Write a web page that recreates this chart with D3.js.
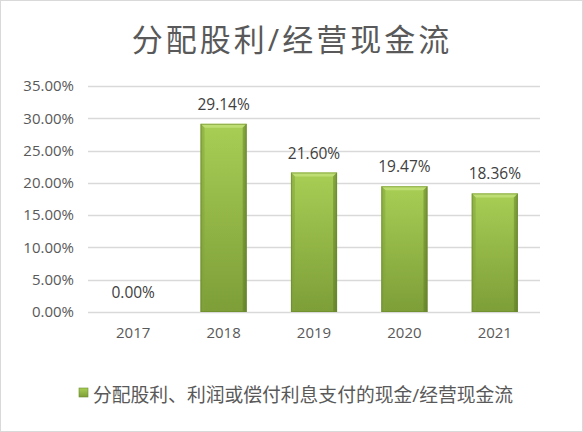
<!DOCTYPE html>
<html>
<head>
<meta charset="utf-8">
<script src="https://cdn.jsdelivr.net/npm/d3@7"></script>
<style>
  body { margin: 0; background: #fff; }
  svg text { font-family: "Open Sans", "Noto Sans CJK SC", sans-serif; }
</style>
</head>
<body>
<script>
// data
var years = ["2017", "2018", "2019", "2020", "2021"];
var ratios = [0.0000, 0.2914, 0.2160, 0.1947, 0.1836];
var yTicks = [0, 0.05, 0.10, 0.15, 0.20, 0.25, 0.30, 0.35];
var titleText = "分配股利/经营现金流";
var seriesName = "分配股利、利润或偿付利息支付的现金/经营现金流";

var width = 583, height = 432;
var margin = { top: 86, right: 43, bottom: 120, left: 88 };

var svg = d3.select("body").append("svg")
    .attr("width", width)
    .attr("height", height);

// gradients for the bevelled bars
var defs = svg.append("defs");
var g1 = defs.append("linearGradient").attr("id", "barFill")
    .attr("x1", 0).attr("y1", 0).attr("x2", 0).attr("y2", 1);
g1.append("stop").attr("offset", "0%").attr("stop-color", "#a8ce55");
g1.append("stop").attr("offset", "100%").attr("stop-color", "#7d9e38");

var g2 = defs.append("linearGradient").attr("id", "edgeFill")
    .attr("x1", 0).attr("y1", 0).attr("x2", 1).attr("y2", 0);
g2.append("stop").attr("offset", "0%").attr("stop-color", "#000").attr("stop-opacity", 0.12);
g2.append("stop").attr("offset", "8%").attr("stop-color", "#000").attr("stop-opacity", 0);
g2.append("stop").attr("offset", "92%").attr("stop-color", "#000").attr("stop-opacity", 0);
g2.append("stop").attr("offset", "100%").attr("stop-color", "#000").attr("stop-opacity", 0.18);

// outer frame
svg.append("rect")
    .attr("x", 0.5).attr("y", 0.5)
    .attr("width", width - 1).attr("height", height - 1)
    .attr("fill", "#fff")
    .attr("stroke", "#d9d9d9");

// title
svg.append("text")
    .attr("x", 292)
    .attr("y", 51)
    .attr("text-anchor", "middle")
    .attr("font-size", "31px")
    .attr("letter-spacing", "3px")
    .attr("fill", "#595959")
    .text(titleText);

var plotW = width - margin.left - margin.right,
    plotH = height - margin.top - margin.bottom;

var chart = svg.append("g")
    .attr("transform", "translate(" + margin.left + "," + margin.top + ")");

var x = d3.scaleBand()
    .domain(years)
    .range([0, plotW])
    .paddingInner(0.49)
    .paddingOuter(0.245);

var y = d3.scaleLinear()
    .domain([0, 0.35])
    .range([plotH, 0]);

// grid lines
chart.append("g")
    .selectAll("line")
    .data(yTicks)
    .join("line")
    .attr("x1", 0)
    .attr("x2", plotW)
    .attr("y1", function(d) { return Math.round(y(d)) + 0.5; })
    .attr("y2", function(d) { return Math.round(y(d)) + 0.5; })
    .attr("stroke", "#d9d9d9")
    .attr("stroke-width", 1.3);

// y axis labels
var yAxis = chart.append("g")
    .attr("transform", "translate(-11,0)")
    .call(d3.axisLeft(y).tickValues(yTicks).tickSize(0).tickFormat(d3.format(".2%")));
yAxis.select(".domain").remove();
yAxis.selectAll("text")
    .attr("font-size", "15px")
    .attr("fill", "#595959")
    .attr("font-family", "Open Sans, sans-serif");

// x axis labels
var xAxis = chart.append("g")
    .attr("transform", "translate(0," + plotH + ")")
    .call(d3.axisBottom(x).tickSize(0).tickPadding(15));
xAxis.select(".domain").remove();
xAxis.selectAll("text")
    .attr("font-size", "15px")
    .attr("fill", "#595959")
    .attr("font-family", "Open Sans, sans-serif");

// bars
var bars = chart.append("g")
    .selectAll("g")
    .data(years.map(function(d, i) { return { year: d, value: ratios[i] }; }))
    .join("g");

bars.filter(function(d) { return d.value > 0; }).each(function(d) {
    var g = d3.select(this);
    var bx = x(d.year), bw = x.bandwidth(), by = y(d.value), bh = plotH - y(d.value);
    var bev = 4;
    g.append("rect")
        .attr("x", bx).attr("y", by)
        .attr("width", bw).attr("height", bh)
        .attr("fill", "url(#barFill)");
    g.append("rect")
        .attr("x", bx).attr("y", by)
        .attr("width", bw).attr("height", bh)
        .attr("fill", "url(#edgeFill)");
    // top bevel highlight
    g.append("polygon")
        .attr("points", [
            [bx, by], [bx + bw, by], [bx + bw - bev, by + bev], [bx + bev, by + bev]
        ].join(" "))
        .attr("fill", "#c2e07a")
        .attr("opacity", 0.85);
    // left bevel
    g.append("polygon")
        .attr("points", [
            [bx, by], [bx + bev, by + bev], [bx + bev, by + bh], [bx, by + bh]
        ].join(" "))
        .attr("fill", "#86a83d")
        .attr("opacity", 0.5);
    // right bevel
    g.append("polygon")
        .attr("points", [
            [bx + bw, by], [bx + bw - bev, by + bev], [bx + bw - bev, by + bh], [bx + bw, by + bh]
        ].join(" "))
        .attr("fill", "#5f7d25")
        .attr("opacity", 0.45);
    g.append("rect")
        .attr("x", bx + 0.5).attr("y", by + 0.5)
        .attr("width", bw - 1).attr("height", bh - 1)
        .attr("fill", "none")
        .attr("stroke", "#6a8a2c")
        .attr("stroke-opacity", 0.6);
});

// value labels
bars.append("text")
    .attr("x", function(d) { return x(d.year) + x.bandwidth() / 2; })
    .attr("y", function(d) { return y(d.value) - 14; })
    .attr("text-anchor", "middle")
    .attr("font-size", "15.5px")
    .attr("fill", "#404040")
    .attr("font-family", "Open Sans, sans-serif")
    .text(function(d) { return d3.format(".2%")(d.value); });

// legend
var legend = svg.append("g").attr("transform", "translate(79,388)");
legend.append("rect")
    .attr("x", 0).attr("y", 0)
    .attr("width", 9).attr("height", 9)
    .attr("fill", "url(#barFill)")
    .attr("stroke", "#6a8a2c")
    .attr("stroke-width", 0.6);
legend.append("text")
    .attr("x", 14)
    .attr("y", 14)
    .attr("font-size", "18.8px")
    .attr("fill", "#595959")
    .attr("font-family", "Noto Sans CJK SC, sans-serif")
    .text(seriesName);
</script>
</body>
</html>
